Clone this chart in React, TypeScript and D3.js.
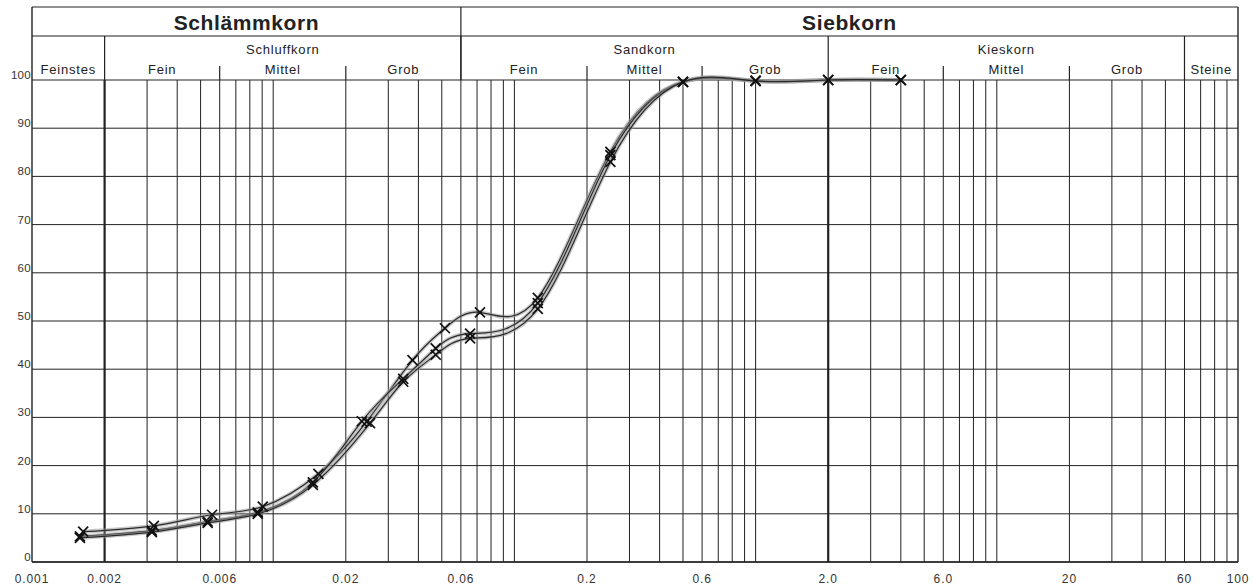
import React from "react";
import * as d3 from "d3";

// ---- data ----
const yTicks = [0, 10, 20, 30, 40, 50, 60, 70, 80, 90, 100];
const xTickLabels = ["0.001", "0.002", "0.006", "0.02", "0.06", "0.2", "0.6", "2.0", "6.0", "20", "60", "100"];
const xTickValues = [0.001, 0.002, 0.006, 0.02, 0.06, 0.2, 0.6, 2, 6, 20, 60, 100];
const thickLines = [0.002, 2];

const mainGroups = ["Schlämmkorn", "Siebkorn"];
const mainBounds = [0.001, 0.06, 100];

const subGroups = ["Feinstes", "Schluffkorn", "Sandkorn", "Kieskorn", "Steine"];
const subBounds = [0.001, 0.002, 0.06, 2, 60, 100];
const subHasParts = [false, true, true, true, false];
const partLabels = ["Fein", "Mittel", "Grob"];
const partBounds = [
  [],
  [0.002, 0.006, 0.02, 0.06],
  [0.06, 0.2, 0.6, 2],
  [2, 6, 20, 60],
  [],
];

const s1Diam = [0.00163, 0.0032, 0.00558, 0.00905, 0.0154, 0.0244, 0.0378, 0.0515, 0.072, 0.125, 0.25, 0.5, 1.0, 2.0, 4.0];
const s1Pass = [6.3, 7.5, 9.8, 11.5, 18.3, 29.1, 41.9, 48.5, 51.8, 54.8, 85.1, 99.6, 99.8, 100, 100];
const s2Diam = [0.00158, 0.00314, 0.00535, 0.00863, 0.0146, 0.0233, 0.0346, 0.0472, 0.0655, 0.125, 0.25, 0.5, 1.0, 2.0, 4.0];
const s2Pass = [5.3, 6.5, 8.4, 10.3, 16.5, 29.2, 38.0, 44.3, 47.4, 53.7, 84.4, 99.6, 99.8, 100, 100];
const s3Diam = [0.00158, 0.00314, 0.00535, 0.00863, 0.0146, 0.0252, 0.0346, 0.0472, 0.0655, 0.125, 0.25, 0.5, 1.0, 2.0, 4.0];
const s3Pass = [5.0, 6.2, 8.1, 10.0, 16.0, 28.8, 37.4, 43.0, 46.4, 52.5, 83.0, 99.6, 99.8, 100, 100];

const seriesList = [
  { d: s1Diam, p: s1Pass },
  { d: s2Diam, p: s2Pass },
  { d: s3Diam, p: s3Pass },
];

// ---- layout ----
const W = 1253;
const H = 587;
const L = 32;
const R = 1238;
const TOP = 7;
const ROW1 = 36;
const PT = 80;
const PB = 562;
const INK = "#222";
const FONT = "Liberation Sans, Arial, sans-serif";

export default function App() {
  const x = d3.scaleLog().domain([0.001, 100]).range([L, R]);
  const y = d3.scaleLinear().domain([0, 100]).range([PB, PT]);

  const gridX = x.ticks().filter((v) => v > 0.0011 && v < 99);

  const line = d3
    .line<[number, number]>()
    .x((d) => x(d[0]))
    .y((d) => y(d[1]))
    .curve(d3.curveNatural);

  const mk = 5;

  return (
    <svg
      width={W}
      height={H}
      style={{ position: "absolute", left: 0, top: 0, background: "#fff" }}
      fontFamily={FONT}
    >
      <rect x={0} y={0} width={W} height={H} fill="#fff" />
      {/* horizontal grid */}
      {yTicks.map((t) => (
        <line key={"h" + t} x1={L} x2={R} y1={y(t)} y2={y(t)} stroke={INK} strokeWidth={1} />
      ))}
      {/* vertical grid */}
      {gridX.map((v, i) => (
        <line
          key={"v" + i}
          x1={x(v)}
          x2={x(v)}
          y1={PT}
          y2={PB}
          stroke={INK}
          strokeWidth={thickLines.some((t) => Math.abs(t - v) < 1e-9) ? 2.2 : 1}
        />
      ))}
      {/* header frame */}
      <line x1={L} x2={R} y1={TOP} y2={TOP} stroke={INK} strokeWidth={1.2} />
      <line x1={L} x2={R} y1={ROW1} y2={ROW1} stroke={INK} strokeWidth={1.2} />
      <line x1={L} x2={L} y1={TOP} y2={PB} stroke={INK} strokeWidth={1.4} />
      <line x1={R} x2={R} y1={TOP} y2={PB} stroke={INK} strokeWidth={1.4} />
      <line x1={L} x2={R} y1={PB} y2={PB} stroke={INK} strokeWidth={1.4} />
      {/* main groups */}
      {mainGroups.map((g, i) => {
        const a = x(mainBounds[i]);
        const b = x(mainBounds[i + 1]);
        return (
          <g key={g}>
            {i > 0 && <line x1={a} x2={a} y1={TOP} y2={PT} stroke={INK} strokeWidth={1.2} />}
            <text
              x={(a + b) / 2}
              y={30}
              textAnchor="middle"
              fontSize={21}
              fontWeight="bold"
              letterSpacing={0.6}
              fill={INK}
            >
              {g}
            </text>
          </g>
        );
      })}
      {/* sub groups */}
      {subGroups.map((g, i) => {
        const a = x(subBounds[i]);
        const b = x(subBounds[i + 1]);
        const parts = partBounds[i];
        return (
          <g key={g}>
            {i > 0 && <line x1={a} x2={a} y1={ROW1} y2={PT} stroke={INK} strokeWidth={1.2} />}
            <text
              x={(a + b) / 2}
              y={subHasParts[i] ? 54 : 74}
              textAnchor="middle"
              fontSize={13}
              letterSpacing={0.8}
              fill={INK}
            >
              {g}
            </text>
            {subHasParts[i] &&
              partLabels.map((p, j) => {
                const pa = x(parts[j]);
                const pb = x(parts[j + 1]);
                return (
                  <g key={p}>
                    {j > 0 && <line x1={pa} x2={pa} y1={66} y2={PT} stroke={INK} strokeWidth={1.2} />}
                    <text x={(pa + pb) / 2} y={74} textAnchor="middle" fontSize={13} letterSpacing={0.8} fill={INK}>
                      {p}
                    </text>
                  </g>
                );
              })}
          </g>
        );
      })}
      {/* y labels */}
      {yTicks.map((t) => (
        <text key={"yl" + t} x={31} y={y(t) - 1} textAnchor="end" fontSize={11.5} letterSpacing={0.3} fill="#333">
          {t}
        </text>
      ))}
      {/* x labels */}
      {xTickValues.map((v, i) => (
        <text key={"xl" + i} x={x(v)} y={583} textAnchor="middle" fontSize={12} letterSpacing={0.9} fill="#333">
          {xTickLabels[i]}
        </text>
      ))}
      {/* curves */}
      {seriesList.map((s, k) => {
        const pts = s.d.map((d, i) => [d, s.p[i]] as [number, number]);
        const path = line(pts) || "";
        return (
          <g key={"s" + k}>
            <path d={path} fill="none" stroke="#9a9a9a" strokeOpacity={0.55} strokeWidth={4} />
            <path d={path} fill="none" stroke="#2a2a2a" strokeWidth={1.2} />
          </g>
        );
      })}
      {seriesList.map((s, k) => (
        <g key={"m" + k}>
          {s.d.map((d, i) => {
            const cx = x(d);
            const cy = y(s.p[i]);
            return (
              <g key={i} stroke="#111" strokeWidth={1.7}>
                <line x1={cx - mk} y1={cy - mk} x2={cx + mk} y2={cy + mk} />
                <line x1={cx - mk} y1={cy + mk} x2={cx + mk} y2={cy - mk} />
              </g>
            );
          })}
        </g>
      ))}
    </svg>
  );
}
